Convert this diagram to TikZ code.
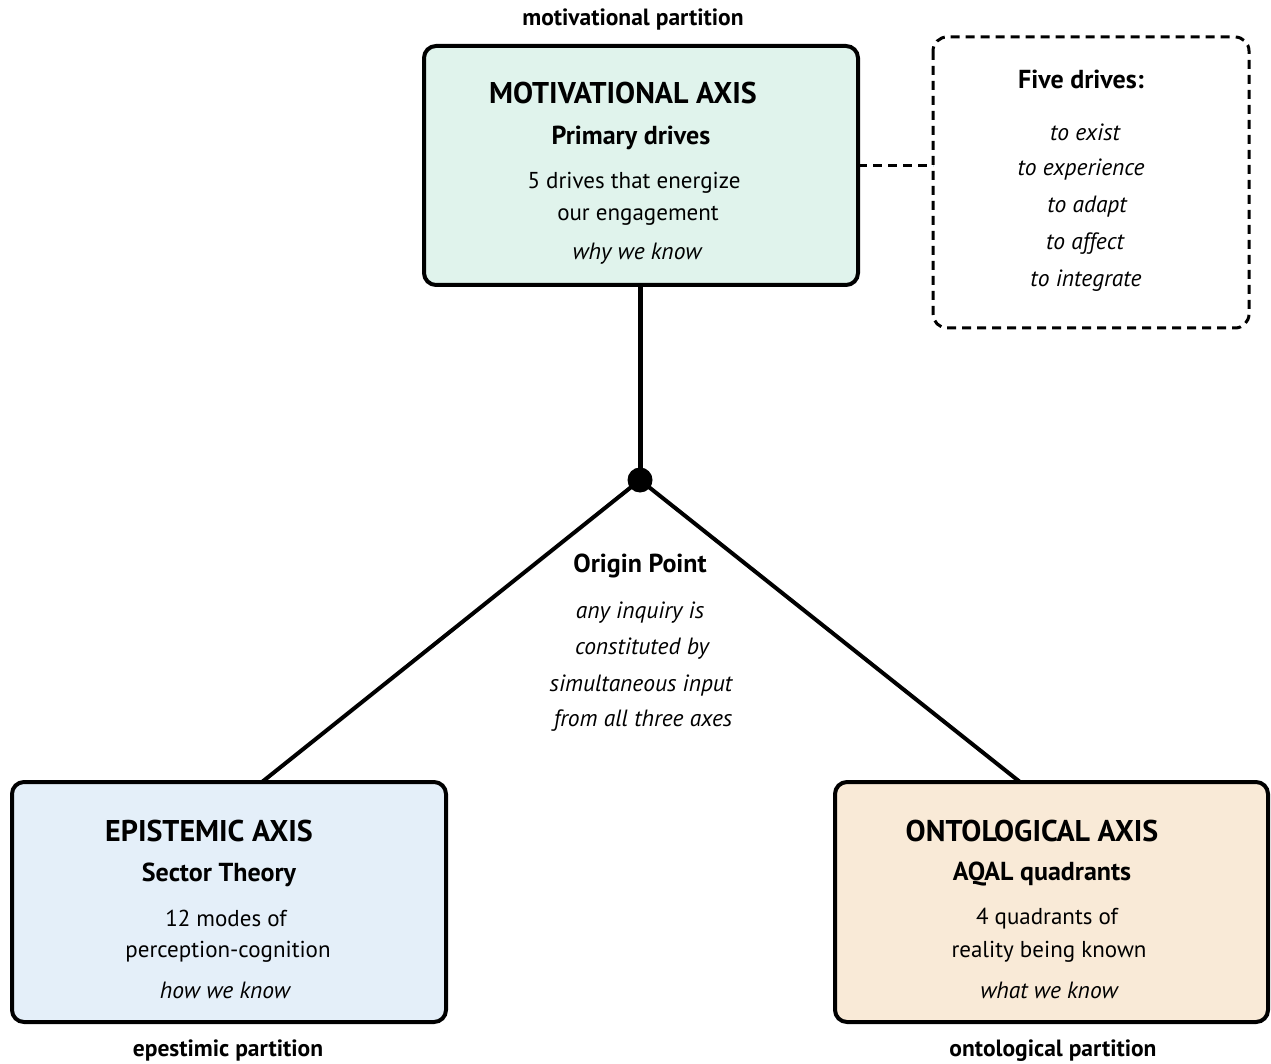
\documentclass[tikz,border=0pt]{standalone}
\usepackage{fontspec}
\setmainfont{PT Sans}
\begin{document}
\begin{tikzpicture}[x=1pt,y=-1pt,
  axisbox/.style={draw=black,line width=4pt,rounded corners=12pt},
  txt/.style={yshift=-2.5pt},
  title/.style={txt,font=\fontsize{30}{34}\selectfont\bfseries},
  sub/.style={txt,font=\fontsize{26}{30}\selectfont\bfseries},
  body/.style={txt,font=\fontsize{23}{26}\selectfont},
  ital/.style={txt,font=\fontsize{23.5}{26}\selectfont\itshape},
  part/.style={txt,font=\fontsize{23.5}{26}\selectfont\bfseries},
  conn/.style={line width=5pt}
]
\definecolor{mint}{HTML}{E0F3EC}
\definecolor{skyb}{HTML}{E4EFF9}
\definecolor{beige}{HTML}{F9EAD7}
\useasboundingbox (0,0) rectangle (1271,1064);

% boxes
\draw[axisbox,fill=mint] (424,46) rectangle (858,285);
\coordinate (motTop) at (640,285);
\draw[axisbox,fill=skyb] (12,782) rectangle (446,1022);
\draw[axisbox,fill=beige] (835,782) rectangle (1268,1022);
\draw[line width=3pt,dashed,dash pattern=on 9pt off 6pt,rounded corners=14pt] (933,37) rectangle (1249,328);

\coordinate (motR) at (858,166);
\coordinate (fiveL) at (933,166);
\coordinate (epiT) at (262,782);
\coordinate (ontT) at (1020,782);
\node[circle,fill=black,inner sep=0,minimum size=25pt] (origin) at (640,480) {};

% connectors
\draw[conn] (motTop) -- (origin.center);
\draw[line width=4pt] (origin.center) -- (epiT);
\draw[line width=4pt] (origin.center) -- (ontT);
\draw[line width=3pt,dash pattern=on 9pt off 6pt] (motR) -- (fiveL);

% texts: motivational
\node[part] (mp) at (633,17) {motivational partition};
\node[title] (mt) at (623,91) {MOTIVATIONAL AXIS};
\node[sub] (ms) at (631,135) {Primary drives};
\node[body] (mb1) at (634,180) {5 drives that energize};
\node[body] (mb2) at (638,213) {our engagement};
\node[ital] (mi) at (637,251) {why we know};

% five drives
\node[sub] (fd) at (1081,77) {Five drives:};
\node[ital] (f1) at (1085,130) {to exist};
\node[ital] (f2) at (1081,167) {to experience};
\node[ital] (f3) at (1087,204) {to adapt};
\node[ital] (f4) at (1085,241) {to affect};
\node[ital] (f5) at (1086,278) {to integrate};

% origin
\node[sub] (op) at (640,563) {Origin Point};
\node[ital] (o1) at (640,610) {any inquiry is};
\node[ital] (o2) at (642,646) {constituted by};
\node[ital] (o3) at (641,683) {simultaneous input};
\node[ital] (o4) at (643,718) {from all three axes};

% epistemic
\node[title] (et) at (209,828) {EPISTEMIC AXIS};
\node[sub] (es) at (219,872) {Sector Theory};
\node[body] (eb1) at (226,916) {12 modes of};
\node[body] (eb2) at (228,949) {perception-cognition};
\node[ital] (ei) at (225,988) {how we know};
\node[part] (ep) at (228,1048) {epestimic partition};

% ontological
\node[title] (ot) at (1032,828) {ONTOLOGICAL AXIS};
\node[sub] (os) at (1042,872) {AQAL quadrants};
\node[body] (ob1) at (1047,916) {4 quadrants of};
\node[body] (ob2) at (1049,949) {reality being known};
\node[ital] (oi) at (1049,988) {what we know};
\node[part] (opp) at (1053,1048) {ontological partition};
\end{tikzpicture}
\end{document}
